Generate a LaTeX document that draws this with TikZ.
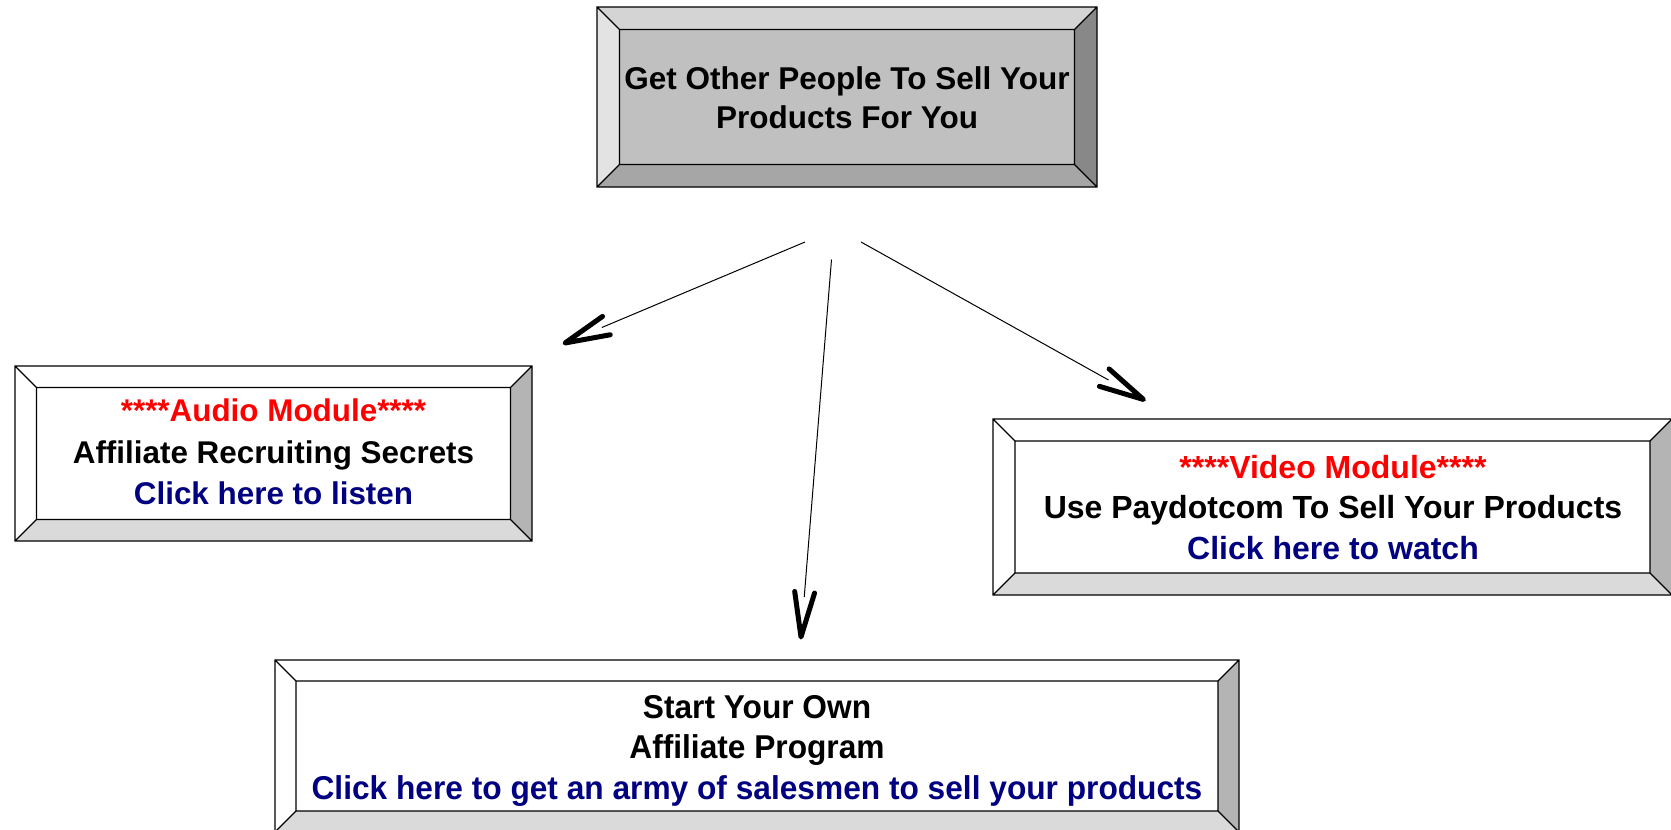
\documentclass[tikz,border=0pt]{standalone}
\usepackage{fontspec}
\setmainfont{Liberation Sans}
\newfontfamily\narrowfont{Liberation Sans}[FakeStretch=0.96]
\usetikzlibrary{calc}
\definecolor{gface}{HTML}{C0C0C0}
\definecolor{gtop}{HTML}{D4D4D4}
\definecolor{gleft}{HTML}{E3E3E3}
\definecolor{gright}{HTML}{888888}
\definecolor{gbot}{HTML}{A6A6A6}
\definecolor{wface}{HTML}{FFFFFF}
\definecolor{wtop}{HTML}{FFFFFF}
\definecolor{wleft}{HTML}{FFFFFF}
\definecolor{wright}{HTML}{B4B4B4}
\definecolor{wbot}{HTML}{DADADA}
\definecolor{navyblue}{HTML}{000080}
\definecolor{brightred}{HTML}{FF0000}
\newcommand\bvbox[6]{%
  \fill[#6face] (#1+#5,#2+#5) rectangle (#3-#5,#4-#5);
  \fill[#6top] (#1,#2) -- (#3,#2) -- (#3-#5,#2+#5) -- (#1+#5,#2+#5) -- cycle;
  \fill[#6bot] (#1,#4) -- (#3,#4) -- (#3-#5,#4-#5) -- (#1+#5,#4-#5) -- cycle;
  \fill[#6left] (#1,#2) -- (#1+#5,#2+#5) -- (#1+#5,#4-#5) -- (#1,#4) -- cycle;
  \fill[#6right] (#3,#2) -- (#3-#5,#2+#5) -- (#3-#5,#4-#5) -- (#3,#4) -- cycle;
  \draw[bvline] (#1,#2) rectangle (#3,#4) (#1+#5,#2+#5) rectangle (#3-#5,#4-#5)
    (#1,#2) -- (#1+#5,#2+#5) (#3,#2) -- (#3-#5,#2+#5)
    (#1,#4) -- (#1+#5,#4-#5) (#3,#4) -- (#3-#5,#4-#5);
}
\begin{document}
\begin{tikzpicture}[x=1pt,y=-1pt,
  bvline/.style={draw=black,line width=1.2pt},
  txt/.style={align=center,inner sep=0pt,font=\bfseries},
  shaft/.style={draw=black,line width=1pt},
  head/.style={draw=black,line width=5pt,line cap=round,line join=round}]
\useasboundingbox (0,0) rectangle (1671,830);
\clip (0,0) rectangle (1671,830);
\fill[white] (0,0) rectangle (1671,830);

% boxes
\bvbox{597}{7}{1097}{187}{22.5}{g}
\bvbox{15}{366}{532}{541}{21.5}{w}
\bvbox{993}{419}{1672}{595}{22}{w}
\bvbox{275}{660}{1239}{832}{21}{w}

% texts
\node[txt,font=\bfseries\fontsize{31.5}{39.5}\selectfont] (topbox) at (847,97.5)
  {Get Other People To Sell Your\\Products For You};
\node[txt,font=\bfseries\fontsize{31.4}{41.7}\selectfont] (audio) at (273.5,452)
  {\textcolor{brightred}{****Audio Module****}\\Affiliate Recruiting Secrets\\\textcolor{navyblue}{Click here to listen}};
\node[txt,font=\bfseries\fontsize{32}{40.5}\selectfont] (video) at (1333,507.5)
  {\textcolor{brightred}{****Video Module****}\\Use Paydotcom To Sell Your Products\\\textcolor{navyblue}{Click here to watch}};
\node[txt,font=\narrowfont\bfseries\fontsize{33}{40.5}\selectfont] (affil) at (757,750.5)
  {Start Your Own\\Affiliate Program\\\textcolor{navyblue}{Click here to get an army of salesmen to sell your products}};

% connectors
\coordinate (s1) at (805,242);   \coordinate (t1) at (565,343);
\coordinate (s2) at (831.5,259.5); \coordinate (t2) at (801,637);
\coordinate (s3) at (861,242);   \coordinate (t3) at (1143.5,399.5);
\foreach \i in {1,2,3}{
  \draw[shaft] (s\i) -- ($(t\i)!40pt!(s\i)$);
  \draw[head] ($(t\i)!46pt!12.5:(s\i)$) -- (t\i) -- ($(t\i)!46pt!-12.5:(s\i)$);
}
\end{tikzpicture}
\end{document}
